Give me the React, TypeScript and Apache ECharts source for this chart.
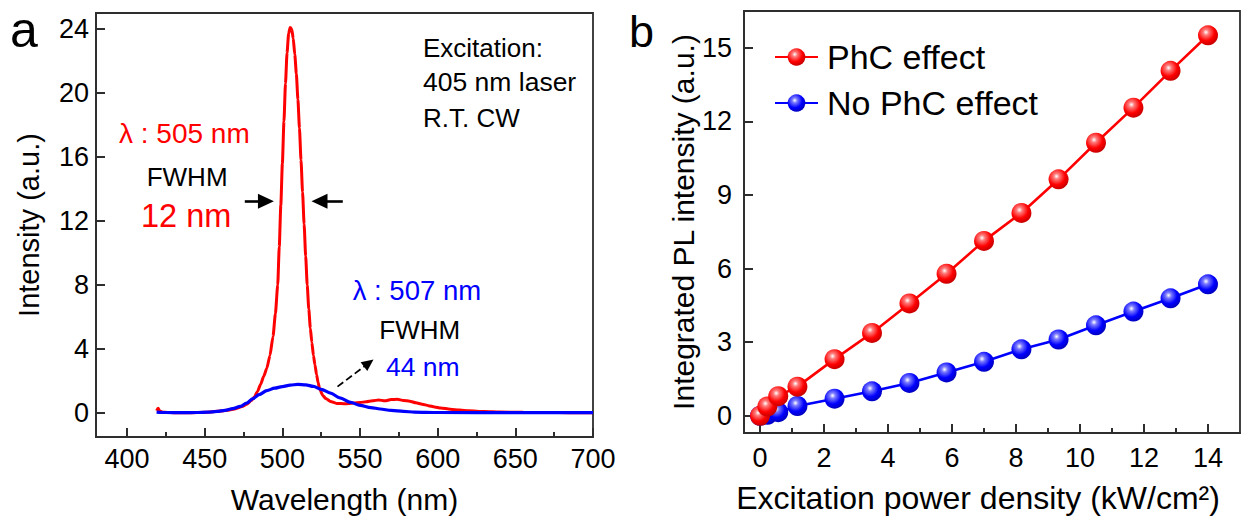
import React, { useEffect, useRef } from "react";
import * as echarts from "echarts";

// ---------- Panel a: PL spectra ----------
const redSpectrum: [number, number][] = [
  [419, 0.15], [420, 0.3], [421, 0.12], [423, 0.05], [426, 0.03], [430, 0.02], [440, 0.02],
  [450, 0.05], [460, 0.12], [466, 0.19], [470, 0.27], [474, 0.4], [477, 0.55], [480, 0.78],
  [482, 1.0], [484, 1.35], [486, 1.8], [488, 2.3], [490, 2.8], [492, 3.6], [494, 4.8],
  [495.5, 6.2], [497, 8.0], [498, 10.4], [499, 13.0], [500, 15.6], [501, 18.2], [502, 20.6],
  [503, 22.5], [504, 23.7], [505, 24.1], [506, 24.0], [507, 23.4], [508, 22.4], [509, 21.2],
  [510, 19.6], [511, 17.8], [512, 15.8], [513, 13.8], [514, 11.8], [515, 9.8], [516, 8.0],
  [517, 6.5], [518, 5.3], [519, 4.4], [520, 3.6], [521, 3.0], [522, 2.4], [523, 1.9],
  [524, 1.5], [526, 1.1], [528, 0.9], [531, 0.72], [535, 0.6], [540, 0.58], [546, 0.62],
  [550, 0.66], [554, 0.7], [558, 0.76], [562, 0.82], [566, 0.76], [570, 0.84], [574, 0.86],
  [578, 0.78], [582, 0.74], [586, 0.64], [590, 0.55], [594, 0.46], [598, 0.38], [602, 0.31],
  [608, 0.24], [614, 0.18], [620, 0.14], [630, 0.09], [640, 0.06], [655, 0.04], [670, 0.03],
  [685, 0.02], [700, 0.02],
];
const blueSpectrum: [number, number][] = [
  [419, 0.06], [425, 0.03], [435, 0.02], [445, 0.03], [452, 0.05], [458, 0.1], [463, 0.17],
  [468, 0.27], [473, 0.41], [477, 0.62], [481, 0.9], [485, 1.15], [490, 1.4], [495, 1.55],
  [500, 1.65], [505, 1.74], [510, 1.79], [515, 1.76], [520, 1.66], [525, 1.48], [531, 1.24],
  [537, 0.95], [544, 0.66], [550, 0.48], [557, 0.34], [563, 0.25], [570, 0.16], [578, 0.1],
  [585, 0.06], [600, 0.03], [650, 0.02], [700, 0.02],
];
const wlTicks = [400, 450, 500, 550, 600, 650, 700];
const wlMinorTicks = [425, 475, 525, 575, 625, 675];
const intTicks = [0, 4, 8, 12, 16, 20, 24];

// ---------- Panel b: integrated PL vs excitation ----------
const powerDensity = [0, 0.23, 0.57, 1.17, 2.33, 3.5, 4.67, 5.83, 7, 8.17, 9.33, 10.5, 11.67, 12.83, 14];
const plPhC = [0, 0.38, 0.8, 1.19, 2.31, 3.38, 4.58, 5.79, 7.13, 8.27, 9.64, 11.13, 12.56, 14.06, 15.51];
const plNoPhC = [0, 0.04, 0.15, 0.4, 0.7, 1.0, 1.34, 1.77, 2.2, 2.71, 3.11, 3.69, 4.25, 4.79, 5.36];
const powerTicks = [0, 2, 4, 6, 8, 10, 12, 14];
const powerMinorTicks = [1, 3, 5, 7, 9, 11, 13];
const plTicks = [0, 3, 6, 9, 12, 15];

const FONT = '"Liberation Sans", Arial, sans-serif';
const AXIS = "#2e2e2e";
const RED = "#ff0000";
const BLUE = "#0000ff";

const sphere = (light: string, mid: string, dark: string) =>
  new echarts.graphic.RadialGradient(0.4, 0.35, 0.65, [
    { offset: 0, color: "#ffffff" },
    { offset: 0.22, color: light },
    { offset: 0.65, color: mid },
    { offset: 1, color: dark },
  ]);

const annotations = [
  { text: "Excitation:", x: 423, y: 47.6, size: 26, color: "#000" },
  { text: "405 nm laser", x: 423, y: 81.6, size: 26.5, color: "#000" },
  { text: "R.T. CW", x: 423, y: 117.6, size: 26, color: "#000" },
  { text: "λ : 505 nm", x: 119, y: 133.8, size: 28, color: RED },
  { text: "FWHM", x: 146.7, y: 176.9, size: 26, color: "#000" },
  { text: "12 nm", x: 141, y: 215.5, size: 32.5, color: RED },
  { text: "λ : 507 nm", x: 352.7, y: 290, size: 27.5, color: BLUE },
  { text: "FWHM", x: 379.3, y: 330.2, size: 26, color: "#000" },
  { text: "44 nm", x: 386, y: 366.9, size: 26.5, color: BLUE },
  { text: "a", x: 10, y: 30, size: 50, color: "#000" },
  { text: "b", x: 629, y: 31.6, size: 45, color: "#000" },
];

function mainX(grid: number, min: number, max: number, ticks: number[], name: string, gap: number, margin: number, nameSize: number, namePad: number[]) {
  return {
    type: "value",
    gridIndex: grid,
    min,
    max,
    position: "bottom",
    name,
    nameLocation: "middle",
    nameGap: gap,
    nameTextStyle: { fontSize: nameSize, color: "#000", fontFamily: FONT, padding: namePad },
    axisLine: { show: true, onZero: false, lineStyle: { color: AXIS, width: 1.8 } },
    axisTick: { show: true, inside: true, length: 9, customValues: ticks, lineStyle: { color: AXIS, width: 2 } },
    axisLabel: { show: true, customValues: ticks, fontSize: 27, color: "#000", margin, fontFamily: FONT },
    splitLine: { show: false },
  };
}
function minorX(grid: number, min: number, max: number, ticks: number[]) {
  return {
    type: "value",
    gridIndex: grid,
    min,
    max,
    position: "bottom",
    axisLine: { show: false, onZero: false },
    axisTick: { show: true, inside: true, length: 5, customValues: ticks, lineStyle: { color: AXIS, width: 2 } },
    axisLabel: { show: false },
    splitLine: { show: false },
  };
}
function mainY(grid: number, min: number, max: number, ticks: number[], name: string, gap: number, margin: number, nameSize: number) {
  return {
    type: "value",
    gridIndex: grid,
    min,
    max,
    position: "left",
    name,
    nameLocation: "middle",
    nameGap: gap,
    nameTextStyle: { fontSize: nameSize, color: "#000", fontFamily: FONT },
    axisLine: { show: true, onZero: false, lineStyle: { color: AXIS, width: 1.8 } },
    axisTick: { show: true, inside: true, length: 9, customValues: ticks, lineStyle: { color: AXIS, width: 2 } },
    axisLabel: { show: true, customValues: ticks, fontSize: 27, color: "#000", margin, fontFamily: FONT },
    splitLine: { show: false },
  };
}

export default function App() {
  const ref = useRef<HTMLDivElement>(null);
  useEffect(() => {
    if (!ref.current) return;
    const chart = echarts.init(ref.current, null, { renderer: "svg" });
    const arrowLine = (from: number[], to: number[], dashed: boolean, size: number[]) => [
      { coord: from, symbol: "none", lineStyle: { color: "#000", width: dashed ? 1.8 : 2.6, type: dashed ? "dashed" : "solid" } },
      { coord: to, symbol: "triangle", symbolSize: size },
    ];
    const option: any = {
      animation: false,
      backgroundColor: "#ffffff",
      textStyle: { fontFamily: FONT },
      grid: [
        { left: 96, top: 13, width: 497, height: 428, show: true, borderColor: AXIS, borderWidth: 1.8, backgroundColor: "transparent" },
        { left: 744, top: 11, width: 496, height: 427, show: true, borderColor: AXIS, borderWidth: 1.8, backgroundColor: "transparent" },
      ],
      xAxis: [
        mainX(0, 380, 700, wlTicks, "Wavelength (nm)", 47, 8, 30, [0, 0, 0, 0]),
        minorX(0, 380, 700, wlMinorTicks),
        mainX(1, -0.5, 15, powerTicks, "Excitation power density (kW/cm²)", 49, 11, 32, [0, 28, 0, 0]),
        minorX(1, -0.5, 15, powerMinorTicks),
      ],
      yAxis: [
        mainY(0, -1.5, 25, intTicks, "Intensity (a.u.)", 53, 7, 29),
        mainY(1, -0.7, 16.5, plTicks, "Integrated PL intensity (a.u.)", 43, 12, 30),
      ],
      legend: {
        data: ["PhC effect", "No PhC effect"],
        orient: "vertical",
        left: 774,
        top: 40,
        padding: 0,
        itemWidth: 43,
        itemHeight: 22,
        itemGap: 12,
        textStyle: { fontSize: 34, lineHeight: 31, color: "#000", fontFamily: FONT, padding: [0, 0, 0, 4] },
      },
      series: [
        {
          type: "line",
          xAxisIndex: 0,
          yAxisIndex: 0,
          data: redSpectrum,
          symbol: "none",
          smooth: 0.2,
          smoothMonotone: "x",
          lineStyle: { color: RED, width: 3 },
          z: 2,
          markLine: {
            silent: true,
            symbol: ["none", "triangle"],
            label: { show: false },
            data: [
              arrowLine([475.8, 13.23], [489.4, 13.23], false, [15, 16]),
              arrowLine([538.9, 13.23], [523.9, 13.23], false, [15, 16]),
              arrowLine([535.5, 1.65], [555.6, 3.12], true, [11, 12]),
            ],
          },
        },
        {
          type: "line",
          xAxisIndex: 0,
          yAxisIndex: 0,
          data: blueSpectrum,
          symbol: "none",
          smooth: 0.3,
          smoothMonotone: "x",
          lineStyle: { color: BLUE, width: 3.2 },
          z: 3,
        },
        {
          name: "No PhC effect",
          type: "line",
          xAxisIndex: 2,
          yAxisIndex: 1,
          data: powerDensity.map((p, i) => [p, plNoPhC[i]]),
          symbol: "circle",
          symbolSize: 20,
          lineStyle: { color: BLUE, width: 2.6 },
          itemStyle: { color: sphere("#7a7aff", BLUE, "#0000c0") },
          z: 3,
        },
        {
          name: "PhC effect",
          type: "line",
          xAxisIndex: 2,
          yAxisIndex: 1,
          data: powerDensity.map((p, i) => [p, plPhC[i]]),
          symbol: "circle",
          symbolSize: 20,
          lineStyle: { color: RED, width: 2.6 },
          itemStyle: { color: sphere("#ff7a7a", RED, "#c80000") },
          z: 4,
        },
      ],
      graphic: annotations.map((a) => ({
        type: "text",
        x: a.x,
        y: a.y,
        silent: true,
        style: {
          text: a.text,
          fill: a.color,
          fontSize: a.size,
          fontFamily: FONT,
          align: "left",
          verticalAlign: "middle",
        },
      })),
    };
    chart.setOption(option);
    return () => chart.dispose();
  }, []);
  return (
    <div
      ref={ref}
      style={{ position: "fixed", left: 0, top: 0, width: 1243, height: 519, background: "#ffffff" }}
    />
  );
}
